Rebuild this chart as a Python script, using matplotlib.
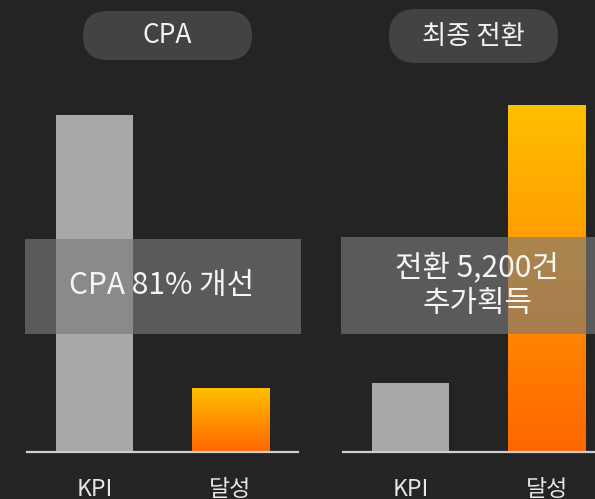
import numpy as np
import matplotlib.pyplot as plt
from matplotlib.colors import LinearSegmentedColormap
from matplotlib.patches import FancyBboxPatch, Rectangle

plt.rcParams['font.family'] = ['Noto Sans CJK KR', 'DejaVu Sans']

# data
categories = ['KPI', '달성']
cpa_values = [100, 19]          # CPA index: KPI vs achieved (81% improvement)
conv_values = [1300, 6500]      # final conversions: KPI vs achieved (+5,200)
panel_titles = ['CPA', '최종 전환']
panel_notes = [['CPA 81% 개선'], ['전환 5,200건', '추가획득']]

W, H = 595, 499
bg = '#242424'
fig = plt.figure(figsize=(W / 100, H / 100), dpi=100, facecolor=bg)


def px_axes(x0, x1, y_top, y_bot):
    # axes placed in pixel coords (origin top-left)
    return fig.add_axes([x0 / W, 1 - y_bot / H, (x1 - x0) / W, (y_bot - y_top) / H])


orange = LinearSegmentedColormap.from_list('og', ['#FF6600', '#FFC000'])
grad = np.linspace(0, 1, 256).reshape(-1, 1)


def draw_panel(ax, values, ytop):
    ax.set_facecolor('none')
    bars = ax.bar(range(len(values)), values, width=0.57,
                  color=['#A8A8A8', 'none'], zorder=1)
    # gradient fill for the achieved bar
    b = bars[1]
    im = ax.imshow(grad, extent=[b.get_x(), b.get_x() + b.get_width(), 0, b.get_height()],
                   origin='lower', aspect='auto', cmap=orange, zorder=1)
    im.set_clip_path(b)
    ax.set_xlim(-0.5, 1.5)
    ax.set_ylim(0, ytop)
    for s in ['top', 'left', 'right']:
        ax.spines[s].set_visible(False)
    ax.spines['bottom'].set_color('#CFCFCF')
    ax.spines['bottom'].set_linewidth(1.6)
    ax.set_yticks([])
    ax.set_xticks(range(len(categories)), categories)
    ax.tick_params(axis='x', length=0, pad=19, labelsize=16.5, labelcolor='#E6E6E6')
    for lbl in ax.get_xticklabels():
        lbl.set_fontweight('light')


ax1 = px_axes(27, 298, 60, 452)
draw_panel(ax1, cpa_values, 116.3)

ax2 = px_axes(342.5, 614.5, 60, 452)
draw_panel(ax2, conv_values, 7343)

# decoration layer (pills, overlay boxes, captions)
deco = fig.add_axes([0, 0, 1, 1], zorder=5)
deco.set_xlim(0, W)
deco.set_ylim(H, 0)
deco.axis('off')
deco.set_facecolor('none')

pills = [(83, 11, 169, 49), (389, 9, 169, 54)]
for (x, y, w, h), title in zip(pills, panel_titles):
    deco.add_patch(FancyBboxPatch((x, y), w, h, boxstyle=f'round,pad=0,rounding_size={h / 2}',
                                  facecolor='#434343', edgecolor='none'))
    deco.text(x + w / 2, y + h / 2, title, ha='center', va='center',
              fontsize=19, color='#F2F2F2')

boxes = [(25, 239, 276, 95), (341, 237, 280, 97)]
for x, y, w, h in boxes:
    deco.add_patch(Rectangle((x, y), w, h, facecolor='#797979', alpha=0.64, edgecolor='none'))

deco.text(162, 286, panel_notes[0][0], ha='center', va='center', fontsize=21.5, color='#F5F5F5')
deco.text(477, 268, panel_notes[1][0], ha='center', va='center', fontsize=21.5, color='#F5F5F5')
deco.text(477, 303, panel_notes[1][1], ha='center', va='center', fontsize=21.5, color='#F5F5F5')

fig.savefig('out.png', dpi=100, facecolor=bg)
